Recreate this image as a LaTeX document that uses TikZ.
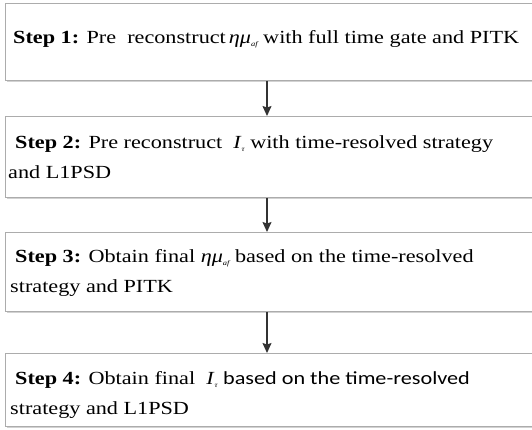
\documentclass[tikz,border=0pt]{standalone}
\usepackage{fontspec}
\setmainfont{Liberation Serif}[FakeStretch=1.2]
\newfontfamily\calfont{Carlito}[FakeStretch=1.2]
\usetikzlibrary{shadows,arrows.meta}

% small low subscripts as in the step texts
\newcommand{\lowsub}[1]{\raisebox{-3pt}{\fontsize{7}{7}\selectfont\itshape #1}}
\newcommand{\etamu}{\textit{ημ}\lowsub{af}}
\newcommand{\Itau}{\textit{I}\lowsub{τ}}

\tikzset{
  stepbox/.style={draw=gray!65, fill=white, line width=0.8pt, anchor=north west,
    minimum width=540pt, drop shadow={shadow xshift=1.5pt, shadow yshift=-2pt, fill=gray!35, opacity=1}},
  steptext/.style={anchor=base west, align=left, inner sep=0pt},
  steparrow/.style={->, >={Stealth[length=10pt, width=9pt, inset=1.5pt]}, line width=1.3pt, black!80}
}

\begin{document}
\begin{tikzpicture}[x=1pt, y=-1pt, font=\fontsize{18.5}{29.5}\selectfont]
    \def\L{5}       %left edge of the boxes
    \def\A{267}     %x of the arrows
    \useasboundingbox (0,0) rectangle (532,429);
    \coordinate (axis) at (\A,0);
    % boxes
    \node[stepbox, minimum height=77pt] (box1) at (\L,3) {};
    \node[stepbox, minimum height=81pt] (box2) at (\L,116) {};
    \node[stepbox, minimum height=79pt] (box3) at (\L,232) {};
    \node[stepbox, minimum height=73pt] (box4) at (\L,353) {};
    % texts (base = last line)
    \node[steptext] (txt1) at (13,43) {\textbf{Step 1:} Pre\ \ reconstruct\,\etamu{} with full time gate and PITK};
    \node[steptext] (txt2) at (8,178) {\hspace*{7pt}\textbf{Step 2:} Pre reconstruct \ \Itau{} with time-resolved strategy\\and L1PSD};
    \node[steptext] (txt3) at (10,292) {\hspace*{5pt}\textbf{Step 3:} Obtain final \etamu{} based on the time-resolved\\strategy and PITK};
    \node[steptext] (txt4) at (10,414) {\hspace*{5pt}\textbf{Step 4:} Obtain final \ \Itau{} \calfont based on the time-resolved\\strategy and L1PSD};
    % arrows
    \draw[steparrow] (box1.south -| axis) -- (box2.north -| axis);
    \draw[steparrow] (box2.south -| axis) -- (box3.north -| axis);
    \draw[steparrow] (box3.south -| axis) -- (box4.north -| axis);
\end{tikzpicture}
\end{document}
